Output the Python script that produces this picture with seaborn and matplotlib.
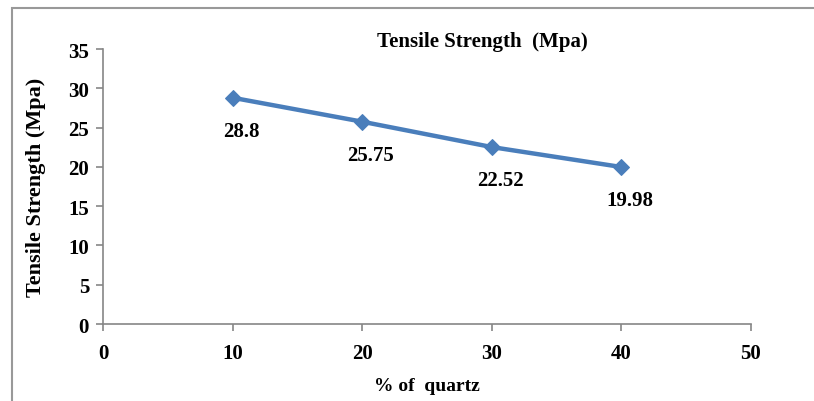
import matplotlib

matplotlib.use("Agg")
import pandas as pd
import seaborn as sns
from matplotlib import pyplot as plt
from matplotlib.patches import Rectangle

quartz_pct = [10, 20, 30, 40]
tensile_mpa = [28.8, 25.75, 22.52, 19.98]
point_labels = ["28.8", "25.75", "22.52", "19.98"]

x_ticks = [0, 10, 20, 30, 40, 50]
y_ticks = [0, 5, 10, 15, 20, 25, 30, 35]

sns.set_theme(style="white")
plt.rcParams["font.family"] = ["Liberation Serif", "DejaVu Serif"]
plt.rcParams["font.weight"] = "bold"
plt.rcParams["text.color"] = "black"
plt.rcParams["axes.labelcolor"] = "black"

df = pd.DataFrame({"quartz": quartz_pct, "strength": tensile_mpa})

fig = plt.figure(figsize=(8.14, 4.02), dpi=100)
ax = fig.add_axes([0.1265, 0.1915, 0.7961, 0.6841])

sns.lineplot(
    data=df,
    x="quartz",
    y="strength",
    ax=ax,
    color="#4A7EBB",
    linewidth=3.2,
    marker="D",
    markersize=8,
    markeredgecolor="#4A7EBB",
)

# подписи значений под точками
for x, y, text in zip(quartz_pct, tensile_mpa, point_labels):
    ax.annotate(
        text,
        (x, y),
        xytext=(6, -24),
        textcoords="offset points",
        ha="center",
        va="center",
        fontsize=15,
        fontweight="bold",
        color="black",
    )

ax.set_xlim(0, 50)
ax.set_ylim(0, 35)
ax.set_xticks(x_ticks)
ax.set_yticks(y_ticks)
ax.tick_params(
    axis="both",
    labelsize=15,
    labelcolor="black",
    direction="out",
    length=5,
    width=1.2,
    color="#868686",
    bottom=True,
    left=True,
)
ax.tick_params(axis="x", pad=9)
ax.tick_params(axis="y", pad=5)
for lbl in ax.get_xticklabels() + ax.get_yticklabels():
    lbl.set_fontweight("bold")

for side in ["top", "right"]:
    ax.spines[side].set_visible(False)
for side in ["left", "bottom"]:
    ax.spines[side].set_color("#868686")
    ax.spines[side].set_linewidth(1.2)

ax.set_xlabel("% of  quartz", fontsize=14, fontweight="bold", labelpad=10)
ax.set_ylabel("Tensile Strength (Mpa)", fontsize=16, fontweight="bold", labelpad=16)
ax.set_title("Tensile Strength  (Mpa)", fontsize=15, fontweight="bold", x=0.585, pad=2)

fig.patches.append(
    Rectangle(
        (12 / 814, -0.1),
        1.2,
        1.0 - 9 / 402 + 0.1,
        transform=fig.transFigure,
        fill=False,
        edgecolor="#999999",
        linewidth=1.5,
    )
)

fig.savefig("out.png", dpi=100)
